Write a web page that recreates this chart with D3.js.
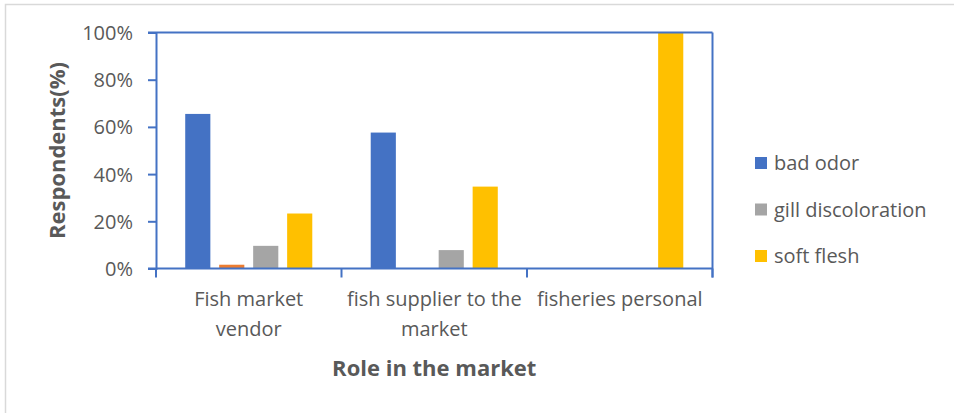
<!DOCTYPE html>
<html>
<head>
<meta charset="utf-8">
<script src="https://cdn.jsdelivr.net/npm/d3@7"></script>
<style>
  html, body { margin: 0; padding: 0; background: #fff; }
  svg { display: block; }
  text { font-family: "Open Sans", "Noto Sans", sans-serif; fill: #595959; }
</style>
</head>
<body>
<svg id="chart" width="954" height="413"></svg>
<script>
// Roles surveyed (x categories), each label split over lines
const categories = ["Fish market vendor", "fish supplier to the market", "fisheries personal"];
const categoryLines = [["Fish market", "vendor"], ["fish supplier to the", "market"], ["fisheries personal"]];

// Share of respondents (%) reporting each spoilage sign
const seriesNames = ["bad odor", "other", "gill discoloration", "soft flesh"];
const badOdor = [65.5, 57.6, 0];
const other = [1.6, 0, 0];
const gillDiscoloration = [9.6, 7.8, 0];
const softFlesh = [23.3, 34.7, 100];
const seriesValues = [badOdor, other, gillDiscoloration, softFlesh];
const seriesColors = ["#4472C4", "#ED7D31", "#A5A5A5", "#FFC000"];
const legendSeries = [0, 2, 3];

const yTicks = [0, 20, 40, 60, 80, 100];

const svg = d3.select("#chart");
const m = { left: 156, right: 712.5, top: 32.5, bottom: 268.5 };

// outer chart frame
svg.append("rect").attr("x", 5.5).attr("y", 4.5).attr("width", 960).attr("height", 420)
  .attr("fill", "none").attr("stroke", "#D9D9D9").attr("stroke-width", 1.5);

const x = d3.scaleBand().domain(categories).range([m.left, m.right]).paddingInner(0).paddingOuter(0);
const y = d3.scaleLinear().domain([0, 100]).range([m.bottom, m.top]);

// bars: inner band for series inside each category
const inner = d3.scaleBand().domain(d3.range(seriesNames.length))
  .range([0, x.bandwidth()]).paddingOuter(0.86).paddingInner(0.26);

const axisColor = "#4472C4";

const g = svg.append("g");
categories.forEach((c, ci) => {
  seriesValues.forEach((vals, si) => {
    const v = vals[ci];
    if (v <= 0) return;
    g.append("rect")
      .attr("x", x(c) + inner(si))
      .attr("width", inner.bandwidth())
      .attr("y", y(v))
      .attr("height", y(0) - y(v))
      .attr("fill", seriesColors[si]);
  });
});

// plot frame: top and right edges
svg.append("line").attr("x1", m.left - 8).attr("x2", m.right).attr("y1", m.top).attr("y2", m.top)
  .attr("stroke", axisColor).attr("stroke-width", 2);
svg.append("line").attr("x1", m.right).attr("x2", m.right).attr("y1", m.top).attr("y2", m.bottom + 9)
  .attr("stroke", axisColor).attr("stroke-width", 2);

// y axis
const yAxis = d3.axisLeft(y).tickValues(yTicks).tickSize(8).tickPadding(15).tickFormat(d => d + "%");
const ya = svg.append("g").attr("transform", `translate(${m.left},0)`).call(yAxis);
ya.select(".domain").attr("stroke", axisColor).attr("stroke-width", 2);
ya.selectAll(".tick line").attr("stroke", axisColor).attr("stroke-width", 2);
ya.selectAll(".tick text").style("font-size", "20px").attr("fill", "#595959").attr("dy", "0.35em");

// x axis: ticks at category boundaries
const xa = svg.append("g").attr("transform", `translate(0,${m.bottom})`);
xa.append("line").attr("x1", m.left - 8).attr("x2", m.right).attr("stroke", axisColor).attr("stroke-width", 2);
const bounds = categories.map(c => x(c)).concat([x(categories[categories.length - 1]) + x.bandwidth()]);
xa.selectAll("line.tk").data(bounds).enter().append("line").attr("class", "tk")
  .attr("x1", d => d).attr("x2", d => d).attr("y1", 0).attr("y2", 9)
  .attr("stroke", axisColor).attr("stroke-width", 2);

categories.forEach((c, ci) => {
  const t = svg.append("text").attr("text-anchor", "middle").style("font-size", "20px")
    .attr("x", x(c) + x.bandwidth() / 2).attr("y", 306);
  categoryLines[ci].forEach((ln, li) => {
    t.append("tspan").attr("x", x(c) + x.bandwidth() / 2).attr("dy", li === 0 ? 0 : 30).text(ln);
  });
});

// axis titles
svg.append("text").attr("text-anchor", "middle").style("font-size", "22px").style("font-weight", "bold")
  .attr("x", (m.left + m.right) / 2 - 0).attr("y", 376).text("Role in the market");
svg.append("text").attr("text-anchor", "middle").style("font-size", "22px").style("font-weight", "bold")
  .attr("transform", `translate(65,${(m.top + m.bottom) / 2}) rotate(-90)`).text("Respondents(%)");

// legend
const legend = svg.append("g");
legendSeries.forEach((si, i) => {
  const ly = 163 + i * 46.5;
  legend.append("rect").attr("x", 755).attr("y", ly - 6).attr("width", 12).attr("height", 12).attr("fill", seriesColors[si]);
  legend.append("text").attr("x", 774).attr("y", ly).attr("dy", "0.35em").style("font-size", "20px").text(seriesNames[si]);
});
</script>
</body>
</html>
